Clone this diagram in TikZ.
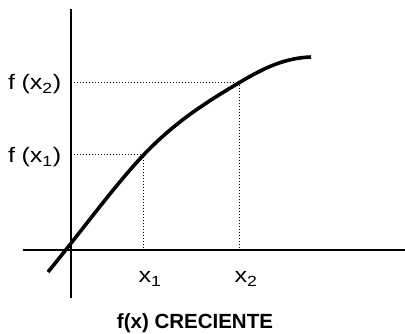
\documentclass[tikz,border=0pt]{standalone}
\usepackage{fontspec}
\setmainfont{Liberation Sans}
\newfontfamily\labfont{Liberation Sans}[FakeStretch=1.2]
\begin{document}
\begin{tikzpicture}[x=1pt,y=-1pt,
  axis/.style={line width=1.6pt},
  curve/.style={line width=3.6pt},
  guide/.style={line width=1pt,dash pattern=on 1pt off 2pt},
  lab/.style={inner sep=0pt,font=\labfont\fontsize{21}{24}\selectfont},
  title/.style={inner sep=0pt,font=\fontsize{20.5}{24}\selectfont\bfseries}]
\useasboundingbox (0,0) rectangle (405,334);
% axes
\coordinate (ytop) at (71,9);
\coordinate (ybot) at (71,298);
\coordinate (xl) at (23,250);
\coordinate (xr) at (405,250);
\draw[axis] (ytop) -- (ybot);
\draw[axis] (xl) -- (xr);
% points
\coordinate (p0) at (48,272);
\coordinate (p1) at (143.5,155);
\coordinate (p2) at (239.5,82.5);
\coordinate (p3) at (311,57);
\coordinate (y1) at (71,155);
\coordinate (y2) at (71,82.5);
\coordinate (x1) at (143.5,250);
\coordinate (x2) at (239.5,250);
% guides
\draw[guide] (y1) -- (p1) -- (x1);
\draw[guide] (y2) -- (p2) -- (x2);
% curve
\draw[curve] (p0) .. controls (80,233) and (115,185) .. (p1)
  .. controls (175,122) and (205,103) .. (p2)
  .. controls (265,67.3) and (285,58) .. (p3);
% labels
\node[lab,anchor=base west] (ly2) at (8,90) {f\hspace{0.3em}(x\textsubscript{2})};
\node[lab,anchor=base west] (ly1) at (8,163) {f\hspace{0.3em}(x\textsubscript{1})};
\node[lab,anchor=base] (lx1) at (150,283) {x\textsubscript{1}};
\node[lab,anchor=base] (lx2) at (246,283) {x\textsubscript{2}};
\node[title,anchor=base] (tt) at (195,329) {f(x) CRECIENTE};
\end{tikzpicture}
\end{document}
